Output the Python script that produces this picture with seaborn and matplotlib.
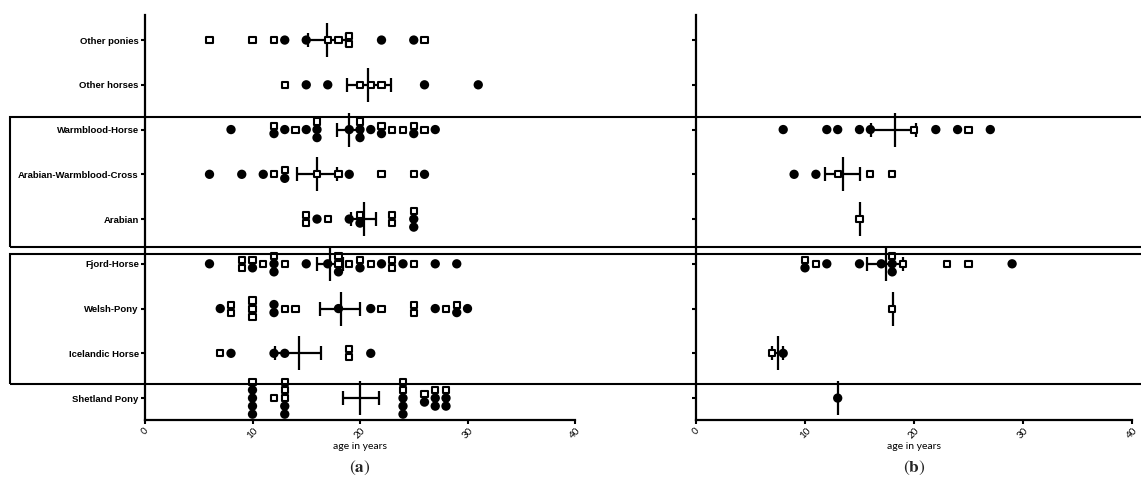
import numpy as np
import pandas as pd
import matplotlib.pyplot as plt
import seaborn as sns
from matplotlib.patches import Rectangle

# breeds, top to bottom
breeds = ["Other ponies", "Other horses", "Warmblood-Horse", "Arabian-Warmblood-Cross",
          "Arabian", "Fjord-Horse", "Welsh-Pony", "Icelandic Horse", "Shetland Pony"]

# panel (a): ages of filled circles / open squares per breed
a_filled = [
    [13, 15, 22, 25],
    [15, 17, 26, 31],
    [8, 12, 13, 15, 16, 16, 19, 20, 20, 21, 22, 25, 27],
    [6, 9, 11, 13, 19, 26],
    [16, 19, 20, 25, 25],
    [6, 10, 12, 12, 15, 17, 18, 20, 22, 24, 27, 29],
    [7, 12, 12, 18, 21, 27, 29, 30],
    [8, 12, 13, 21],
    [10, 10, 10, 10, 13, 13, 24, 24, 24, 26, 27, 27, 28, 28],
]
a_open = [
    [6, 10, 12, 17, 18, 19, 19, 26],
    [13, 20, 21, 22],
    [12, 14, 16, 20, 22, 23, 24, 25, 26],
    [12, 13, 16, 18, 22, 25],
    [15, 15, 17, 20, 23, 23, 25],
    [9, 9, 10, 11, 12, 13, 18, 18, 19, 20, 21, 23, 23, 25],
    [8, 8, 10, 10, 10, 13, 14, 22, 25, 25, 28, 29],
    [7, 19, 19],
    [10, 12, 13, 13, 13, 24, 24, 26, 27, 28],
]
# mean and error bar ends
a_mean = [16.95, 20.75, 19.0, 16.0, 20.35, 17.2, 18.2, 14.3, 20.0]
a_low = [15.2, 18.75, 17.85, 14.1, 19.15, 16.0, 16.3, 12.1, 18.4]
a_high = [18.7, 22.9, 20.2, 17.9, 21.5, 18.4, 20.0, 16.4, 21.8]

# panel (b)
b_filled = [
    [], [],
    [8, 12, 13, 15, 16, 22, 24, 27],
    [9, 11],
    [],
    [10, 12, 15, 17, 18, 18, 29],
    [],
    [8],
    [13],
]
b_open = [
    [], [],
    [20, 25],
    [13, 16, 18],
    [15],
    [10, 11, 18, 19, 23, 25],
    [18],
    [7],
    [],
]
b_mean = [None, None, 18.25, 13.5, 15.0, 17.4, 18.05, 7.5, 13.05]
b_low = [None, None, 16.05, 11.8, None, 15.7, None, 7.0, None]
b_high = [None, None, 20.2, 15.05, None, 19.0, None, 8.0, None]


def long_table(filled, opened):
    rows = []
    for i, breed in enumerate(breeds):
        for v in opened[i]:
            rows.append((breed, i, v, "open"))
        for v in filled[i]:
            rows.append((breed, i, v, "filled"))
    df = pd.DataFrame(rows, columns=["breed", "row", "age", "group"])
    # stack equal ages vertically, squares above circles
    k = df.groupby(["row", "age"]).cumcount()
    n = df.groupby(["row", "age"])["age"].transform("size")
    df["ypos"] = df["row"] + (k - (n - 1) / 2) * 0.18
    return df


def draw_panel(ax, filled, opened, mean, low, high, show_labels):
    df = long_table(filled, opened)
    sns.scatterplot(data=df, x="age", y="ypos", hue="group", style="group", size="group",
                    palette={"filled": "black", "open": "white"},
                    markers={"filled": "o", "open": "s"},
                    sizes={"filled": 27, "open": 19},
                    edgecolor="black", linewidth=1.5, legend=False, ax=ax, zorder=3)

    rows = np.arange(len(breeds))
    m = np.array([np.nan if v is None else v for v in mean])
    lo = np.array([np.nan if v is None else v for v in low])
    hi = np.array([np.nan if v is None else v for v in high])
    has_err = ~np.isnan(lo)
    ax.errorbar(m[has_err], rows[has_err], xerr=[m[has_err] - lo[has_err], hi[has_err] - m[has_err]],
                fmt="none", ecolor="black", elinewidth=1.6, capsize=4.7, capthick=1.6, zorder=2)
    has_mean = ~np.isnan(m)
    ax.plot(m[has_mean], rows[has_mean], ls="none", marker="|", ms=24, mew=1.6,
            color="black", zorder=2)

    ax.set_xlim(0, 40)
    ax.set_ylim(8.49, -0.56)
    ax.set_xticks([0, 10, 20, 30, 40])
    ax.set_xticklabels(["0", "10", "20", "30", "40"], rotation=45, ha="center",
                       fontsize=7, family="Lato", color="black")
    ax.set_yticks(rows)
    if show_labels:
        ax.set_yticklabels(breeds, fontsize=6.8, fontweight="bold", family="Liberation Sans",
                           color="black")
    else:
        ax.set_yticklabels([])
    ax.set_xlabel("age in years", fontsize=7.5, family="Lato", labelpad=1, color="black")
    ax.set_ylabel("")
    for side in ["left", "bottom"]:
        ax.spines[side].set_linewidth(1.6)
        ax.spines[side].set_color("black")
    sns.despine(ax=ax)
    ax.tick_params(width=1.5, length=3, pad=1.5, color="black")


sns.set_style("ticks")
plt.rcParams["font.family"] = ["Liberation Sans", "DejaVu Sans"]
plt.rcParams["mathtext.fontset"] = "stix"

W, H = 1141, 486
fig = plt.figure(figsize=(W / 100, H / 100), dpi=100)
ax_a = fig.add_axes([145 / W, 1 - 420 / H, 430 / W, 405 / H])
ax_b = fig.add_axes([696 / W, 1 - 420 / H, 436 / W, 405 / H])

draw_panel(ax_a, a_filled, a_open, a_mean, a_low, a_high, True)
draw_panel(ax_b, b_filled, b_open, b_mean, b_low, b_high, False)

# group boxes across both panels
for top, bottom in [(117, 247), (254, 384)]:
    fig.add_artist(Rectangle((10 / W, 1 - bottom / H), 1.2, (bottom - top) / H,
                             transform=fig.transFigure, fill=False, lw=1.5, ec="black"))

fig.text(360 / W, 1 - 468 / H, r"$(\mathbf{a})$", ha="center", va="center", fontsize=12.5)
fig.text(914 / W, 1 - 468 / H, r"$(\mathbf{b})$", ha="center", va="center", fontsize=12.5)

fig.savefig("out.png", dpi=100)
